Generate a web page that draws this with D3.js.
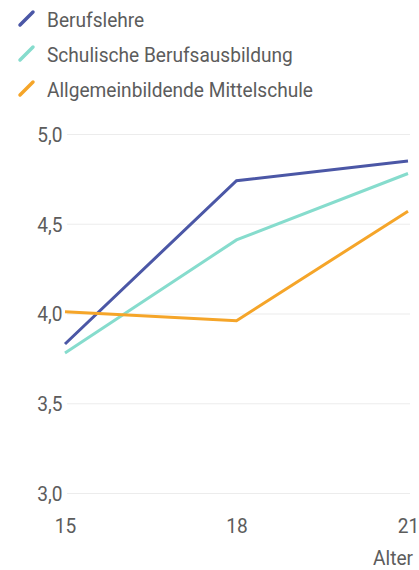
<!DOCTYPE html>
<html>
<head>
<meta charset="utf-8">
<script src="https://cdn.jsdelivr.net/npm/d3@7"></script>
<style>
  body { margin: 0; background: #fff; overflow: hidden; }
  svg text { font-family: Roboto, sans-serif; fill: #5c5c5c; }
</style>
</head>
<body>
<svg></svg>
<script>
const margin = {t: 134, r: 11, b: 77, l: 65};
const size = {w: 419, h: 570};
const svg = d3.select('svg');
const squeeze = 'scale(0.91,1)';   // the reference font is a condensed one

svg.attr('width', size.w)
    .attr('height', size.h);

// data
const ages = [15, 18, 21];
const seriesNames = ['Berufslehre', 'Schulische Berufsausbildung', 'Allgemeinbildende Mittelschule'];
const berufslehre = [3.83, 4.74, 4.85];
const schulisch = [3.78, 4.41, 4.78];
const mittelschule = [4.01, 3.96, 4.57];
const yTicks = [3.0, 3.5, 4.0, 4.5, 5.0];
const colors = ['#4b57a6', '#86dccd', '#f5a529'];

const series = [berufslehre, schulisch, mittelschule];

let inner = {
    w: size.w - margin.l - margin.r,
    h: size.h - margin.t - margin.b
};

let x = d3.scaleLinear().domain([15, 21]).range([0, inner.w]);
let y = d3.scaleLinear().domain([3, 5]).range([inner.h, 0]);

let g = svg.append('g')
    .attr('transform', 'translate(' + margin.l + ',' + margin.t + ')');

// grid + y labels
let yAxis = d3.axisLeft(y)
    .tickValues(yTicks)
    .tickSize(-inner.w)
    .tickPadding(5)
    .tickFormat(d => d3.format('.1f')(d).replace('.', ','));

let ya = g.append('g').attr('transform', 'translate(2,0)').call(yAxis);
ya.select('.domain').remove();
ya.selectAll('line').attr('stroke', '#ececec').attr('stroke-width', 1.2);
ya.selectAll('text').attr('font-size', 21).attr('dy', '0.35em')
    .attr('transform', squeeze);

// x labels
let xa = g.append('g')
    .attr('transform', 'translate(0,' + inner.h + ')')
    .call(d3.axisBottom(x).tickValues(ages).tickSize(0).tickPadding(0).tickFormat(d3.format('d')));
xa.select('.domain').remove();
xa.selectAll('text').attr('font-size', 21).attr('dy', null).attr('y', 40)
    .attr('transform', squeeze);

g.append('g')
    .attr('transform', 'translate(' + (inner.w + 5) + ',' + (inner.h + 72) + ')')
    .append('text')
    .attr('text-anchor', 'end')
    .attr('font-size', 21)
    .attr('transform', squeeze)
    .text('Alter');

// lines
let line = d3.line()
    .x((d, i) => x(ages[i]))
    .y(d => y(d));

g.selectAll('path.series')
    .data(series)
    .enter()
    .append('path')
    .classed('series', true)
    .attr('d', d => line(d))
    .attr('fill', 'none')
    .attr('stroke', (d, i) => colors[i])
    .attr('stroke-width', 3)
    .attr('stroke-linejoin', 'miter');

// legend
let rows = svg.append('g').selectAll('g')
    .data(seriesNames)
    .enter()
    .append('g')
    .attr('transform', (d, i) => 'translate(0,' + (27 + i * 35) + ')');

rows.append('line')
    .attr('x1', 20).attr('y1', -2)
    .attr('x2', 33).attr('y2', -15)
    .attr('stroke', (d, i) => colors[i])
    .attr('stroke-width', 3.5)
    .attr('stroke-linecap', 'round');

rows.append('g')
    .attr('transform', 'translate(47,0)')
    .append('text')
    .attr('font-size', 21)
    .attr('transform', squeeze)
    .text(d => d);
</script>
</body>
</html>
